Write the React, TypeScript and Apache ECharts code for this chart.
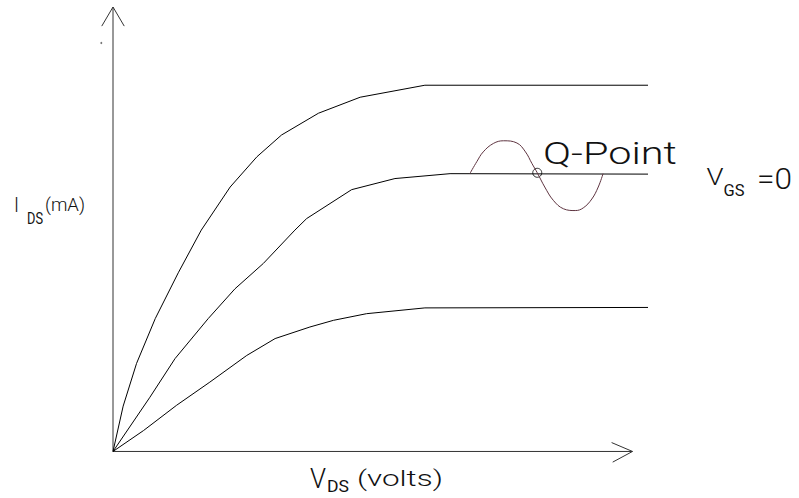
import React, { useEffect, useRef } from "react";
import * as echarts from "echarts";

// Characteristic curves (x: V_DS units, y: I_DS units)
const curveTop: [number, number][] = [
  [0, 0], [0.19, 1.02], [0.44, 1.98], [0.79, 2.99], [1.22, 4.02], [1.65, 4.98], [2.19, 5.95],
  [2.69, 6.63], [3.15, 7.12], [3.84, 7.61], [4.62, 7.97], [5.83, 8.24], [10, 8.24],
];
const curveMid: [number, number][] = [
  [0, 0], [0.69, 1.22], [1.16, 2.09], [1.78, 2.99], [2.28, 3.66], [2.81, 4.23], [3.4, 4.98],
  [3.62, 5.24], [4.46, 5.89], [5.27, 6.14], [6.3, 6.25], [10, 6.24],
];
const curveLow: [number, number][] = [
  [0, 0], [0.57, 0.47], [1.19, 1.04], [1.81, 1.56], [2.5, 2.16], [3.03, 2.54], [3.68, 2.8],
  [4.12, 2.95], [4.74, 3.1], [5.83, 3.23], [10, 3.24],
];
const signal: [number, number][] = [
  [6.67, 6.25], [6.8, 6.52], [6.92, 6.74], [7.11, 6.93], [7.3, 6.99], [7.55, 6.94], [7.71, 6.74],
  [7.83, 6.48], [7.93, 6.27], [8.07, 5.95], [8.23, 5.65], [8.42, 5.46], [8.64, 5.42], [8.79, 5.48],
  [8.95, 5.68], [9.07, 5.95], [9.16, 6.25],
];
const qPoint: [number, number][] = [[7.93, 6.27]];
const xAxisLine: [number, number][] = [[0, 0], [9.71, 0]];
const xArrow: [number, number][] = [[9.32, 0.2], [9.71, 0], [9.34, -0.24]];
const yAxisLine: [number, number][] = [[0, 0], [0, 10]];
const yArrow: [number, number][] = [[-0.21, 9.57], [0, 10], [0.21, 9.57]];
const strayDot: [number, number][] = [[-0.22, 9.19]];

const FONT = "Roboto";

function measure(text: string, size: number, weight: number, family: string) {
  const c = document.createElement("canvas").getContext("2d")!;
  c.font = `${weight} ${size}px ${family}`;
  return c.measureText(text).width || 1;
}

function label(text: string, x: number, cy: number, size: number, width: number, weight = 300, family = FONT) {
  const w = measure(text, size, weight, family);
  return {
    type: "text",
    x,
    y: cy,
    scaleX: width / w,
    silent: true,
    style: {
      text,
      x: 0,
      y: 0,
      fill: "#111",
      fontSize: size,
      fontWeight: weight,
      fontFamily: family,
      align: "left",
      verticalAlign: "middle",
    },
  };
}

function lineSeries(data: [number, number][], color = "#000", width = 1, smooth: boolean | number = false) {
  return {
    type: "line",
    data,
    showSymbol: false,
    symbol: "none",
    smooth,
    silent: true,
    lineStyle: { color, width },
  };
}

export default function App() {
  const ref = useRef<HTMLDivElement>(null);
  useEffect(() => {
    if (!ref.current) return;
    const chart = echarts.init(ref.current, undefined, { renderer: "svg" });
    chart.setOption({
      animation: false,
      backgroundColor: "#fff",
      grid: { left: 59.5, right: 151, top: 7, bottom: 2.1, containLabel: false },
      xAxis: { type: "value", min: -1, max: 10, show: false },
      yAxis: { type: "value", min: -1, max: 10, show: false },
      series: [
        lineSeries(xAxisLine, "#333"),
        lineSeries(xArrow, "#333"),
        lineSeries(yAxisLine, "#333"),
        lineSeries(yArrow, "#333"),
        lineSeries(curveTop),
        lineSeries(curveMid),
        lineSeries(curveLow),
        lineSeries(signal, "#5e3440", 1, 0.4),
        {
          type: "scatter",
          data: qPoint,
          symbol: "circle",
          symbolSize: 9,
          silent: true,
          itemStyle: { color: "rgba(0,0,0,0)", borderColor: "#000", borderWidth: 1 },
        },
        {
          type: "scatter",
          data: strayDot,
          symbol: "circle",
          symbolSize: 2,
          silent: true,
          itemStyle: { color: "#555" },
        },
      ],
      graphic: [
        label("Q-Point", 543, 153.5, 31, 134, 300),
        label("V", 706.5, 176.5, 24, 17, 300),
        label("GS", 723.5, 191, 16, 21, 400),
        label("=0", 757, 179, 30, 35, 300),
        label("I", 14, 205.5, 21, 5, 300),
        label("DS", 27, 218.5, 17, 16, 400),
        label("(mA)", 45, 205, 19, 40, 300),
        label("V", 310, 478, 27, 16, 300),
        label("DS", 327, 486, 16, 22, 400),
        label("(volts)", 357, 478.5, 22, 86, 300),
      ],
    });
    return () => chart.dispose();
  }, []);
  return (
    <div
      ref={ref}
      style={{ position: "absolute", left: 0, top: 0, width: 799, height: 498 }}
    />
  );
}
